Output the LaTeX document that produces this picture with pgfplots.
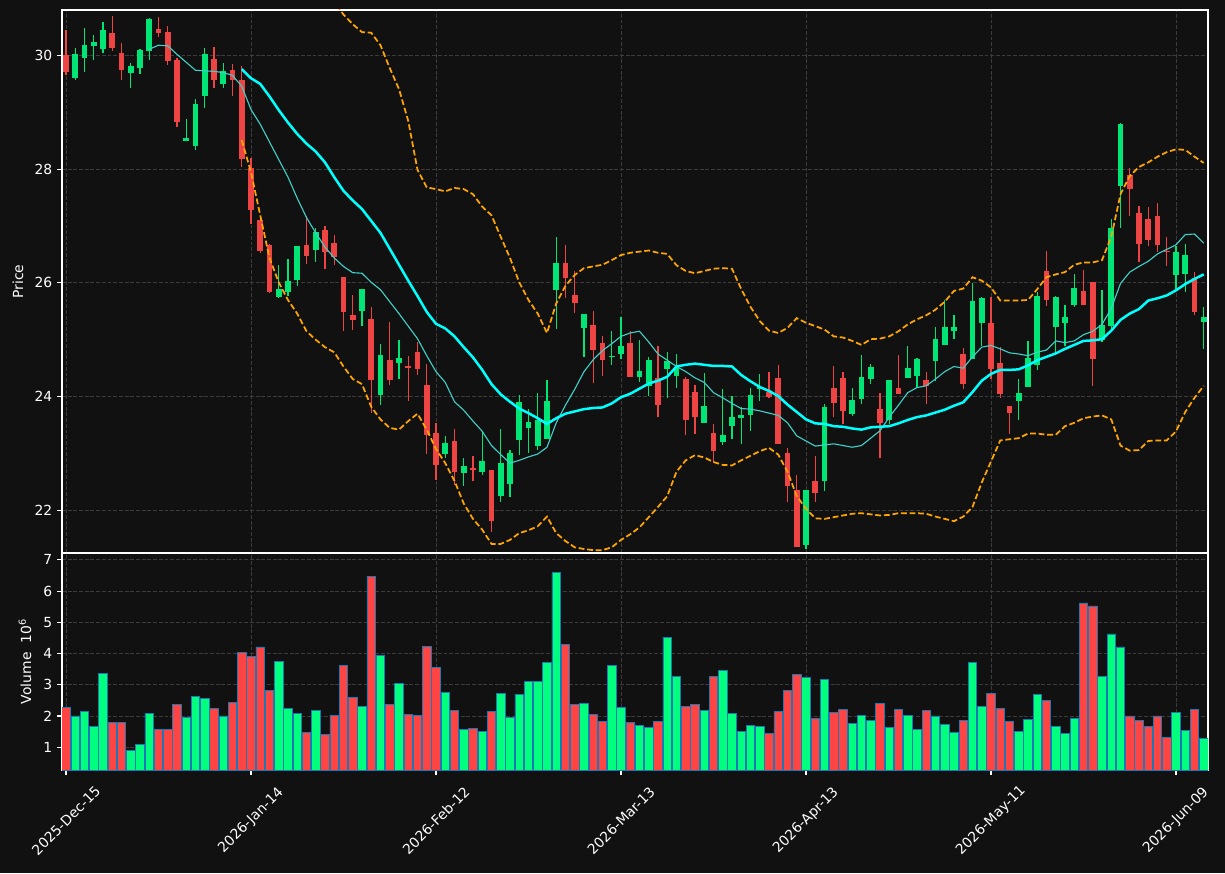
\documentclass[border=0pt]{standalone}
\usepackage{pgfplots}
\pgfplotsset{compat=1.18}
\usepackage{pgfplotstable}
\usepackage{fontspec}
\setmainfont{DejaVu Sans}
\definecolor{bg}{HTML}{111111}
\definecolor{upc}{HTML}{00E676}
\definecolor{dnc}{HTML}{EF4444}
\definecolor{volup}{HTML}{00FF7F}
\definecolor{voldn}{HTML}{FF4444}
\definecolor{edgeb}{HTML}{1F77B4}
\definecolor{gridc}{HTML}{3C3C3C}
\definecolor{ma20c}{HTML}{00FFFF}
\definecolor{ma10c}{HTML}{40D0C8}
\definecolor{bandc}{HTML}{FFA500}

\pgfplotstableread{
x o h l c v
1 29.605 30.136 29.56 30.025 2.0
2 29.963 30.49 29.716 30.185 2.155
3 30.173 30.358 29.926 30.24 1.674
4 30.117 30.59 30.05 30.45 3.374
7 29.698 29.864 29.42 29.815 0.904
8 29.778 30.117 29.68 30.099 1.096
9 30.08 30.654 29.926 30.642 2.09
13 28.50 28.88 28.50 28.55 1.963
14 28.407 29.235 28.333 29.148 2.636
15 29.296 30.13 29.068 30.025 2.572
17 29.506 29.87 29.42 29.728 2.0
23 25.753 26.32 25.735 25.889 3.76
24 25.846 26.414 25.765 26.025 2.251
25 26.056 26.648 25.95 26.648 2.09
27 26.586 26.97 26.37 26.895 2.187
32 25.506 25.889 25.241 25.889 2.316
34 24.025 24.92 23.85 24.728 3.952
36 24.593 24.988 24.31 24.679 3.053
41 22.988 23.315 22.926 23.191 2.765
43 22.66 22.926 22.432 22.777 1.578
45 22.679 23.389 22.617 22.864 1.513
47 22.247 23.438 22.148 22.827 2.733
48 22.463 23.06 22.228 23.006 1.963
49 23.235 24.025 22.975 23.901 2.70
50 23.451 23.79 23.006 23.556 3.118
51 23.13 24.056 23.06 23.586 3.118
52 23.253 24.3 23.253 23.92 3.727
53 25.877 26.802 25.198 26.346 6.583
56 25.21 25.45 24.704 25.45 2.412
59 24.70 25.16 24.562 24.72 3.631
60 24.747 25.407 24.654 24.889 2.283
62 24.346 24.994 24.265 24.457 1.706
63 24.191 24.704 24.006 24.642 1.642
65 24.481 24.778 23.975 24.623 4.529
66 24.358 24.747 24.16 24.512 3.278
69 23.53 24.42 23.53 23.833 2.187
71 23.198 24.13 23.154 23.327 3.471
72 23.48 24.006 23.247 23.636 2.09
73 23.63 23.81 23.173 23.68 1.513
74 23.68 24.16 23.4 24.025 1.706
75 24.13 24.395 23.93 24.17 1.674
80 21.395 22.352 21.32 22.352 3.246
82 22.519 23.864 22.34 23.809 3.182
85 23.698 24.16 23.654 23.938 1.77
86 23.963 24.728 23.864 24.34 2.027
87 24.315 24.574 24.222 24.52 1.866
89 23.586 24.296 23.512 24.296 1.642
91 24.333 24.889 24.333 24.5 2.027
92 24.364 24.685 24.16 24.667 1.578
94 24.63 25.222 24.27 25.01 2.0
95 24.914 25.704 24.914 25.222 1.738
96 25.148 25.444 25.012 25.222 1.481
98 24.654 25.994 24.654 25.69 3.727
99 25.296 25.753 24.889 25.735 2.316
103 23.926 24.315 23.593 24.062 1.513
104 24.173 24.975 24.173 24.685 1.898
105 24.562 25.84 24.47 25.765 2.70
107 25.228 25.778 24.747 25.753 1.674
108 25.296 25.611 24.889 25.4 1.449
109 25.611 26.148 25.58 25.907 1.93
112 24.994 25.87 24.963 25.259 3.278
113 25.24 27.123 25.179 26.963 4.626
114 27.704 28.81 26.969 28.796 4.21
120 26.142 26.642 25.9 26.543 2.123
121 26.16 26.69 25.846 26.488 1.545
123 25.315 25.568 24.84 25.4 1.289
}\uptab

\pgfplotstableread{
x o h l c v
0 30.006 30.44 29.65 29.716 2.283
5 30.395 30.69 30.086 30.136 1.80
6 30.043 30.22 29.574 29.753 1.80
10 30.469 30.67 30.33 30.40 1.578
11 30.41 30.52 29.83 29.90 1.578
12 29.92 29.95 28.75 28.833 2.38
16 29.94 30.148 29.42 29.574 2.251
18 29.747 29.85 29.284 29.574 2.444
19 29.574 29.81 28.037 28.185 4.048
20 28.02 28.2 27.04 27.278 3.92
21 27.105 27.15 26.52 26.568 4.21
22 26.66 26.69 25.83 25.846 2.829
26 26.66 27.185 26.34 26.475 1.481
28 26.932 27.0 26.247 26.55 1.417
29 26.698 26.846 26.32 26.463 2.027
30 26.105 26.105 25.148 25.494 3.631
31 25.432 25.796 25.179 25.352 2.604
33 25.364 25.58 23.71 24.284 6.455
35 24.642 25.32 24.2 24.296 2.38
37 24.543 24.716 23.93 24.506 2.059
38 24.784 24.963 24.377 24.488 2.027
39 24.204 24.58 22.99 23.327 4.24
40 23.358 23.54 22.54 22.802 3.567
42 23.216 23.438 22.45 22.679 2.187
44 22.753 22.957 22.525 22.71 1.61
46 22.704 22.704 21.611 21.815 2.155
54 26.346 26.66 25.735 26.093 4.305
55 25.784 26.216 25.475 25.648 2.38
57 25.259 25.5 24.235 24.82 2.059
58 24.95 25.062 24.364 24.648 1.834
61 24.938 25.148 24.346 24.346 1.80
64 24.327 24.889 23.636 23.852 1.834
67 24.315 24.346 23.327 23.586 2.316
68 24.08 24.2 23.346 23.636 2.38
70 23.358 23.512 22.85 23.05 3.278
76 24.08 24.44 23.975 23.994 1.449
77 24.327 24.55 23.173 23.173 2.155
78 23.006 23.1 22.154 22.432 2.829
79 22.352 22.617 21.364 21.364 3.342
81 22.525 22.957 22.154 22.3 1.93
83 24.16 24.53 23.636 23.889 2.123
84 24.327 24.426 23.512 23.753 2.219
88 23.778 24.056 22.914 23.53 2.412
90 24.148 24.728 24.05 24.05 2.219
93 24.296 24.426 23.864 24.191 2.187
97 24.747 24.858 24.13 24.222 1.866
100 25.29 25.753 24.315 24.488 2.733
101 24.586 24.87 23.975 24.05 2.251
102 23.833 23.833 23.34 23.716 1.834
106 26.21 26.556 25.6 25.704 2.508
110 25.858 26.228 25.611 25.611 5.62
111 26.01 26.01 24.19 24.667 5.524
115 27.895 28.02 27.185 27.648 2.0
116 27.228 27.352 26.37 26.685 1.866
117 27.123 27.327 26.654 26.753 1.674
118 27.173 27.4 26.55 26.673 2.0
119 26.556 26.815 26.302 26.543 1.321
122 26.086 26.185 25.438 25.488 2.219
}\dntab

\pgfplotsset{
  darkax/.style={
    scale only axis,
    enlargelimits=false,
    xmin=-0.43, xmax=123.46,
    xtick={0,20,40,60,80,100,120},
    axis background/.style={fill=bg},
    axis line style={white, line width=0.8pt},
    tick style={white, line width=0.8pt},
    major tick length=3.5pt,
    tick align=outside,
    tick pos=left,
    tick label style={white, font=\fontsize{10}{12}\selectfont},
    label style={white, font=\fontsize{10}{12}\selectfont},
    grid=major,
    major grid style={gridc, dash pattern=on 2.8pt off 1.3pt, line width=0.6pt},
    /pgf/number format/assume math mode=true,
  },
  wick/.style={draw=none, mark=none, forget plot,
    error bars/.cd, y dir=plus, y explicit, error mark=none,
    error bar style={draw=#1, solid, line width=0.95pt}},
  body/.style={draw=none, mark=none, forget plot,
    error bars/.cd, y dir=plus, y explicit, error mark=none,
    error bar style={draw=#1, solid, line width=4.1pt}},
}

\begin{document}
\begin{tikzpicture}
\fill[bg] (0pt,0pt) rectangle (882pt,628.56pt);

% ---------------- Price panel ----------------
\begin{axis}[darkax,
  at={(44.64pt,230.4pt)}, anchor=south west,
  width=825.12pt, height=390.96pt,
  ymin=21.25, ymax=30.80,
  ytick={22,24,26,28,30},
  xticklabels={},
  xtick style={draw=none},
  ylabel={Price},
  ylabel style={at={(axis description cs:-0.0384,0.5)}, anchor=center},
]
\addplot[wick=upc] table[x=x, y=l, y error plus expr=\thisrow{h}-\thisrow{l}] \uptab;
\addplot[wick=dnc] table[x=x, y=l, y error plus expr=\thisrow{h}-\thisrow{l}] \dntab;
\addplot[body=upc] table[x=x, y=o, y error plus expr=\thisrow{c}-\thisrow{o}] \uptab;
\addplot[body=dnc] table[x=x, y=c, y error plus expr=\thisrow{o}-\thisrow{c}] \dntab;

% 10-period moving average (thin)
\addplot[ma10c, line width=0.8pt, mark=none] coordinates {
(9,30.11)(10,30.18)(11,30.17)(12,30.02)(13,29.88)(14,29.74)(15,29.73)(16,29.72)(17,29.70)(18,29.65)
(19,29.46)(20,29.05)(21,28.79)(22,28.48)(23,28.17)(24,27.86)(25,27.49)(26,27.15)(27,26.88)(28,26.63)
(29,26.44)(30,26.29)(31,26.18)(32,26.17)(33,26.01)(34,25.88)(35,25.67)(36,25.46)(37,25.24)(38,25.02)
(39,24.72)(40,24.44)(41,24.25)(42,23.91)(43,23.76)(44,23.57)(45,23.39)(46,23.14)(47,22.98)(48,22.83)
(49,22.88)(50,22.94)(51,22.99)(52,23.11)(53,23.54)(54,23.85)(55,24.13)(56,24.44)(57,24.65)(58,24.81)
(59,24.93)(60,25.06)(61,25.12)(62,25.15)(63,24.96)(64,24.75)(65,24.64)(66,24.53)(67,24.44)(68,24.33)
(69,24.25)(70,24.07)(71,23.98)(72,23.88)(73,23.79)(74,23.78)(75,23.75)(76,23.71)(77,23.67)(78,23.54)
(79,23.31)(80,23.22)(81,23.13)(82,23.15)(83,23.17)(84,23.14)(85,23.11)(86,23.14)(87,23.27)(88,23.40)
(89,23.64)(90,23.85)(91,24.07)(92,24.16)(93,24.19)(94,24.31)(95,24.44)(96,24.53)(97,24.50)(98,24.70)
(99,24.87)(100,24.90)(101,24.84)(102,24.77)(103,24.75)(104,24.72)(105,24.78)(106,24.82)(107,24.98)(108,24.95)
(109,24.98)(110,25.09)(111,25.15)(112,25.27)(113,25.55)(114,25.99)(115,26.19)(116,26.29)(117,26.38)(118,26.51)
(119,26.59)(120,26.67)(121,26.85)(122,26.86)(123,26.70)
};

% 20-period moving average (thick)
\addplot[ma20c, line width=1.8pt, mark=none] coordinates {
(19,29.76)(20,29.60)(21,29.50)(22,29.28)(23,29.04)(24,28.82)(25,28.62)(26,28.45)(27,28.31)(28,28.12)
(29,27.86)(30,27.62)(31,27.45)(32,27.30)(33,27.09)(34,26.88)(35,26.60)(36,26.32)(37,26.04)(38,25.77)
(39,25.49)(40,25.28)(41,25.20)(42,25.06)(43,24.87)(44,24.69)(45,24.47)(46,24.22)(47,24.04)(48,23.91)
(49,23.79)(50,23.71)(51,23.62)(52,23.52)(53,23.62)(54,23.70)(55,23.74)(56,23.78)(57,23.80)(58,23.81)
(59,23.88)(60,23.99)(61,24.05)(62,24.14)(63,24.23)(64,24.28)(65,24.35)(66,24.53)(67,24.56)(68,24.58)
(69,24.56)(70,24.54)(71,24.54)(72,24.53)(73,24.38)(74,24.27)(75,24.17)(76,24.10)(77,24.01)(78,23.86)
(79,23.73)(80,23.60)(81,23.53)(82,23.52)(83,23.48)(84,23.47)(85,23.44)(86,23.42)(87,23.46)(88,23.47)
(89,23.48)(90,23.53)(91,23.59)(92,23.64)(93,23.67)(94,23.72)(95,23.77)(96,23.84)(97,23.90)(98,24.08)
(99,24.28)(100,24.40)(101,24.47)(102,24.47)(103,24.48)(104,24.55)(105,24.64)(106,24.70)(107,24.76)(108,24.84)
(109,24.91)(110,24.98)(111,24.99)(112,25.01)(113,25.16)(114,25.35)(115,25.46)(116,25.54)(117,25.69)(118,25.73)
(119,25.78)(120,25.87)(121,25.98)(122,26.07)(123,26.15)
};

% upper band
\addplot[bandc, line width=1.25pt, dash pattern=on 4.2pt off 2pt, mark=none] coordinates {
(19,31.01)(20,31.25)(21,31.81)(22,32.12)(23,32.07)(24,31.94)(25,31.78)(26,31.75)(27,31.62)(28,31.37)
(29,30.94)(30,30.72)(31,30.55)(32,30.41)(33,30.40)(34,30.18)(35,29.78)(36,29.41)(37,28.85)(38,27.99)
(39,27.68)(40,27.65)(41,27.61)(42,27.67)(43,27.65)(44,27.56)(45,27.34)(46,27.19)(47,26.81)(48,26.44)
(49,26.01)(50,25.70)(51,25.46)(52,25.12)(53,25.64)(54,25.95)(55,26.14)(56,26.26)(57,26.29)(58,26.32)
(59,26.40)(60,26.49)(61,26.53)(62,26.55)(63,26.57)(64,26.53)(65,26.51)(66,26.31)(67,26.21)(68,26.17)
(69,26.21)(70,26.25)(71,26.26)(72,26.25)(73,25.89)(74,25.58)(75,25.33)(76,25.16)(77,25.12)(78,25.21)
(79,25.38)(80,25.30)(81,25.24)(82,25.18)(83,25.06)(84,25.04)(85,24.98)(86,24.91)(87,25.01)(88,25.02)
(89,25.06)(90,25.15)(91,25.27)(92,25.36)(93,25.43)(94,25.53)(95,25.67)(96,25.86)(97,25.90)(98,26.10)
(99,26.04)(100,25.92)(101,25.69)(102,25.69)(103,25.69)(104,25.70)(105,25.89)(106,26.10)(107,26.15)(108,26.19)
(109,26.32)(110,26.36)(111,26.36)(112,26.40)(113,26.81)(114,27.56)(115,27.88)(116,28.04)(117,28.12)(118,28.22)
(119,28.30)(120,28.35)(121,28.34)(122,28.22)(123,28.11)
};

% lower band
\addplot[bandc, line width=1.25pt, dash pattern=on 4.2pt off 2pt, mark=none] coordinates {
(19,28.51)(20,27.95)(21,27.19)(22,26.44)(23,26.01)(24,25.70)(25,25.46)(26,25.15)(27,25.00)(28,24.87)
(29,24.78)(30,24.53)(31,24.31)(32,24.22)(33,23.82)(34,23.60)(35,23.45)(36,23.42)(37,23.57)(38,23.70)
(39,23.42)(40,23.08)(41,22.83)(42,22.52)(43,22.12)(44,21.85)(45,21.66)(46,21.41)(47,21.41)(48,21.48)
(49,21.60)(50,21.65)(51,21.72)(52,21.89)(53,21.60)(54,21.46)(55,21.35)(56,21.32)(57,21.30)(58,21.30)
(59,21.35)(60,21.48)(61,21.58)(62,21.70)(63,21.88)(64,22.06)(65,22.25)(66,22.68)(67,22.88)(68,22.97)
(69,22.93)(70,22.85)(71,22.80)(72,22.79)(73,22.88)(74,22.96)(75,23.04)(76,23.10)(77,22.98)(78,22.68)
(79,22.25)(80,22.03)(81,21.86)(82,21.85)(83,21.88)(84,21.91)(85,21.94)(86,21.95)(87,21.93)(88,21.91)
(89,21.92)(90,21.95)(91,21.95)(92,21.95)(93,21.94)(94,21.89)(95,21.85)(96,21.81)(97,21.89)(98,22.06)
(99,22.49)(100,22.86)(101,23.23)(102,23.25)(103,23.27)(104,23.35)(105,23.35)(106,23.33)(107,23.33)(108,23.48)
(109,23.54)(110,23.62)(111,23.65)(112,23.67)(113,23.60)(114,23.14)(115,23.05)(116,23.06)(117,23.22)(118,23.23)
(119,23.23)(120,23.39)(121,23.73)(122,23.98)(123,24.19)
};
\end{axis}

% ---------------- Volume panel ----------------
\begin{axis}[darkax,
  at={(44.64pt,74.16pt)}, anchor=south west,
  width=825.12pt, height=156.24pt,
  ymin=0.27, ymax=7.22,
  ytick={1,2,3,4,5,6,7},
  xticklabels={2025-Dec-15,2026-Jan-14,2026-Feb-12,2026-Mar-13,2026-Apr-13,2026-May-11,2026-Jun-09},
  xticklabel style={yshift=-33pt, rotate=45, anchor=center},
  ylabel={Volume~~10\textsuperscript{6}},
  ylabel style={at={(axis description cs:-0.0323,0.5)}, anchor=center},
]
\addplot[ybar, bar width=0.92, bar shift=0pt, fill=volup, draw=edgeb, line width=0.6pt] table[x=x, y=v] \uptab;
\addplot[ybar, bar width=0.92, bar shift=0pt, fill=voldn, draw=edgeb, line width=0.6pt] table[x=x, y=v] \dntab;
\end{axis}
\end{tikzpicture}
\end{document}
